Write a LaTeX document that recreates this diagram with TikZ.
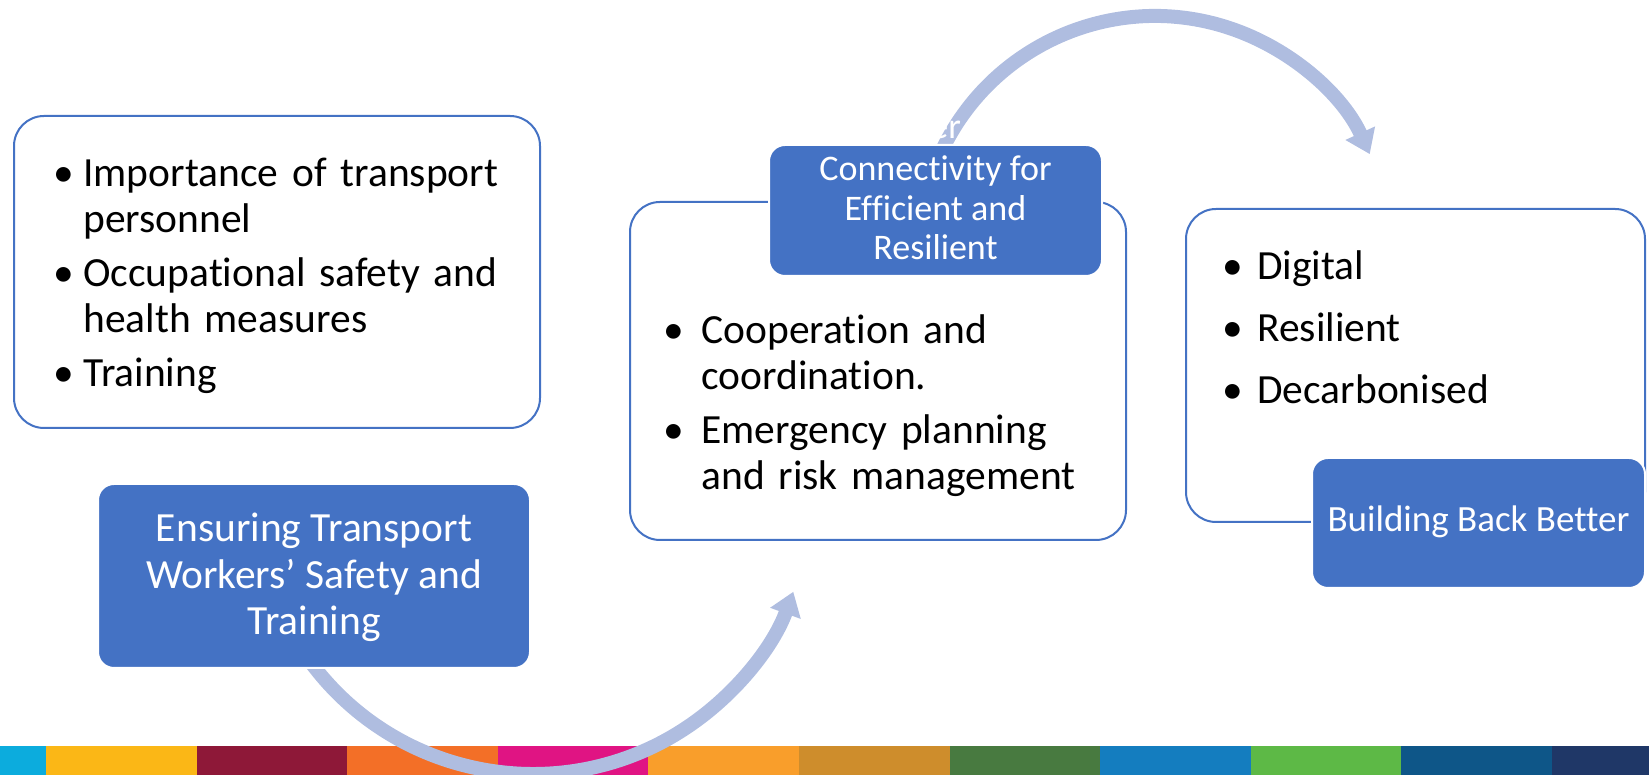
\documentclass[tikz,border=0pt]{standalone}
\usepackage{fontspec}
\setmainfont{Carlito}[Ligatures=NoCommon]
\usetikzlibrary{arrows.meta,fit}

\definecolor{boxblue}{HTML}{4472C4}
\definecolor{arrowblue}{HTML}{AFBDE0}
% strip colours
\definecolor{sdga}{HTML}{0CACDD}
\definecolor{sdgb}{HTML}{FBB716}
\definecolor{sdgc}{HTML}{8E1838}
\definecolor{sdgd}{HTML}{F36F27}
\definecolor{sdge}{HTML}{E01483}
\definecolor{sdgf}{HTML}{F99E2B}
\definecolor{sdgg}{HTML}{CE8D2C}
\definecolor{sdgh}{HTML}{487A40}
\definecolor{sdgi}{HTML}{147DBF}
\definecolor{sdgj}{HTML}{5DB946}
\definecolor{sdgk}{HTML}{0E5688}
\definecolor{sdgl}{HTML}{1F3767}

\newlength\bind
% one bullet point, ended by \par
\newcommand\bitem[1]{\hangindent=\bind\hangafter=1\noindent\makebox[\bind][l]{\textbullet}#1\par}
\newcommand\listfont{\fontsize{20.75}{23}\selectfont}

\tikzset{
  plainbox/.style={draw=boxblue, line width=1pt, fill=white, rounded corners=15pt, inner sep=0pt},
  headbox/.style={draw=white, line width=1pt, fill=boxblue, rounded corners=8pt, inner sep=0pt},
  listtext/.style={anchor=base west, inner sep=0pt, align=left, font=\listfont,
    execute at begin node={\setlength\bind{#1}\setlength\parskip{4pt}\hyphenpenalty=10000}},
  headtext/.style={anchor=base, inner sep=0pt, align=center, text=white},
  bigarrow/.style={draw=arrowblue, line width=7pt, -{Triangle[width=15.5pt,length=11.5pt]}}
}

\begin{document}
\begin{tikzpicture}[x=0.5pt, y=0.5pt, line join=round]
\useasboundingbox (0,0) rectangle (1649,775);

% colour strip
\begin{scope}
  \clip (0,0) rectangle (1649,29);
  \foreach \c [count=\i] in {sdga,sdgb,sdgc,sdgd,sdge,sdgf,sdgg,sdgh,sdgi,sdgj,sdgk,sdgl}
    \fill[\c] ({46+150.6*(\i-2)},0) rectangle ++(151,29);
\end{scope}

% curved arrows
\coordinate (lowstart) at ([shift={(215:277)}]533,278);
\coordinate (topstart) at ([shift={(160:236)}]1155,523);
\draw[bigarrow] (lowstart) arc[start angle=215, end angle=340, radius=277];
\draw[bigarrow] (topstart) arc[start angle=160, end angle=24.5, radius=236];
\node[anchor=base west, inner sep=0pt, text=white, font=\fontsize{18}{20}\selectfont] (hid) at (930,636) {er};

% boxes
\node[plainbox, fit={(14,347) (540,659)}] (lbox) {};
\node[plainbox, fit={(630,235) (1126,573)}] (mbox) {};
\node[plainbox, fit={(1186,253) (1645,566)}] (rbox) {};
\node[headbox, fit={(98,107) (530,291)}] (lhead) {};
\node[headbox, fit={(769,499) (1102,630)}] (mhead) {};
\node[headbox, fit={(1312,187) (1645,317)}] (rhead) {};

% lists
\node[listtext=15pt, text width=230pt] (llist) at (53,588)
  {\bitem{Importance of transport personnel}\bitem{Occupational safety and health measures}\bitem{Training}};
\node[listtext=19pt, text width=215pt] (mlist) at (663,431)
  {\bitem{Cooperation and coordination.}\bitem{Emergency planning and risk management}};
\node[listtext=17.5pt, text width=200pt] (rlist) at (1222,495)
  {\setlength\parskip{8pt}\bitem{Digital}\bitem{Resilient}\bitem{Decarbonised}};

% titles (base = last line)
\node[headtext, font=\fontsize{20.75}{23.3}\selectfont] (ltitle) at (314,140)
  {Ensuring Transport\\Workers’ Safety and\\Training};
\node[headtext, font=\fontsize{18}{19.75}\selectfont] (mtitle) at (935.5,515)
  {Connectivity for\\Efficient and\\Resilient};
\node[headtext, font=\fontsize{18.5}{20}\selectfont] (rtitle) at (1478.5,243)
  {Building Back Better};
\end{tikzpicture}
\end{document}
